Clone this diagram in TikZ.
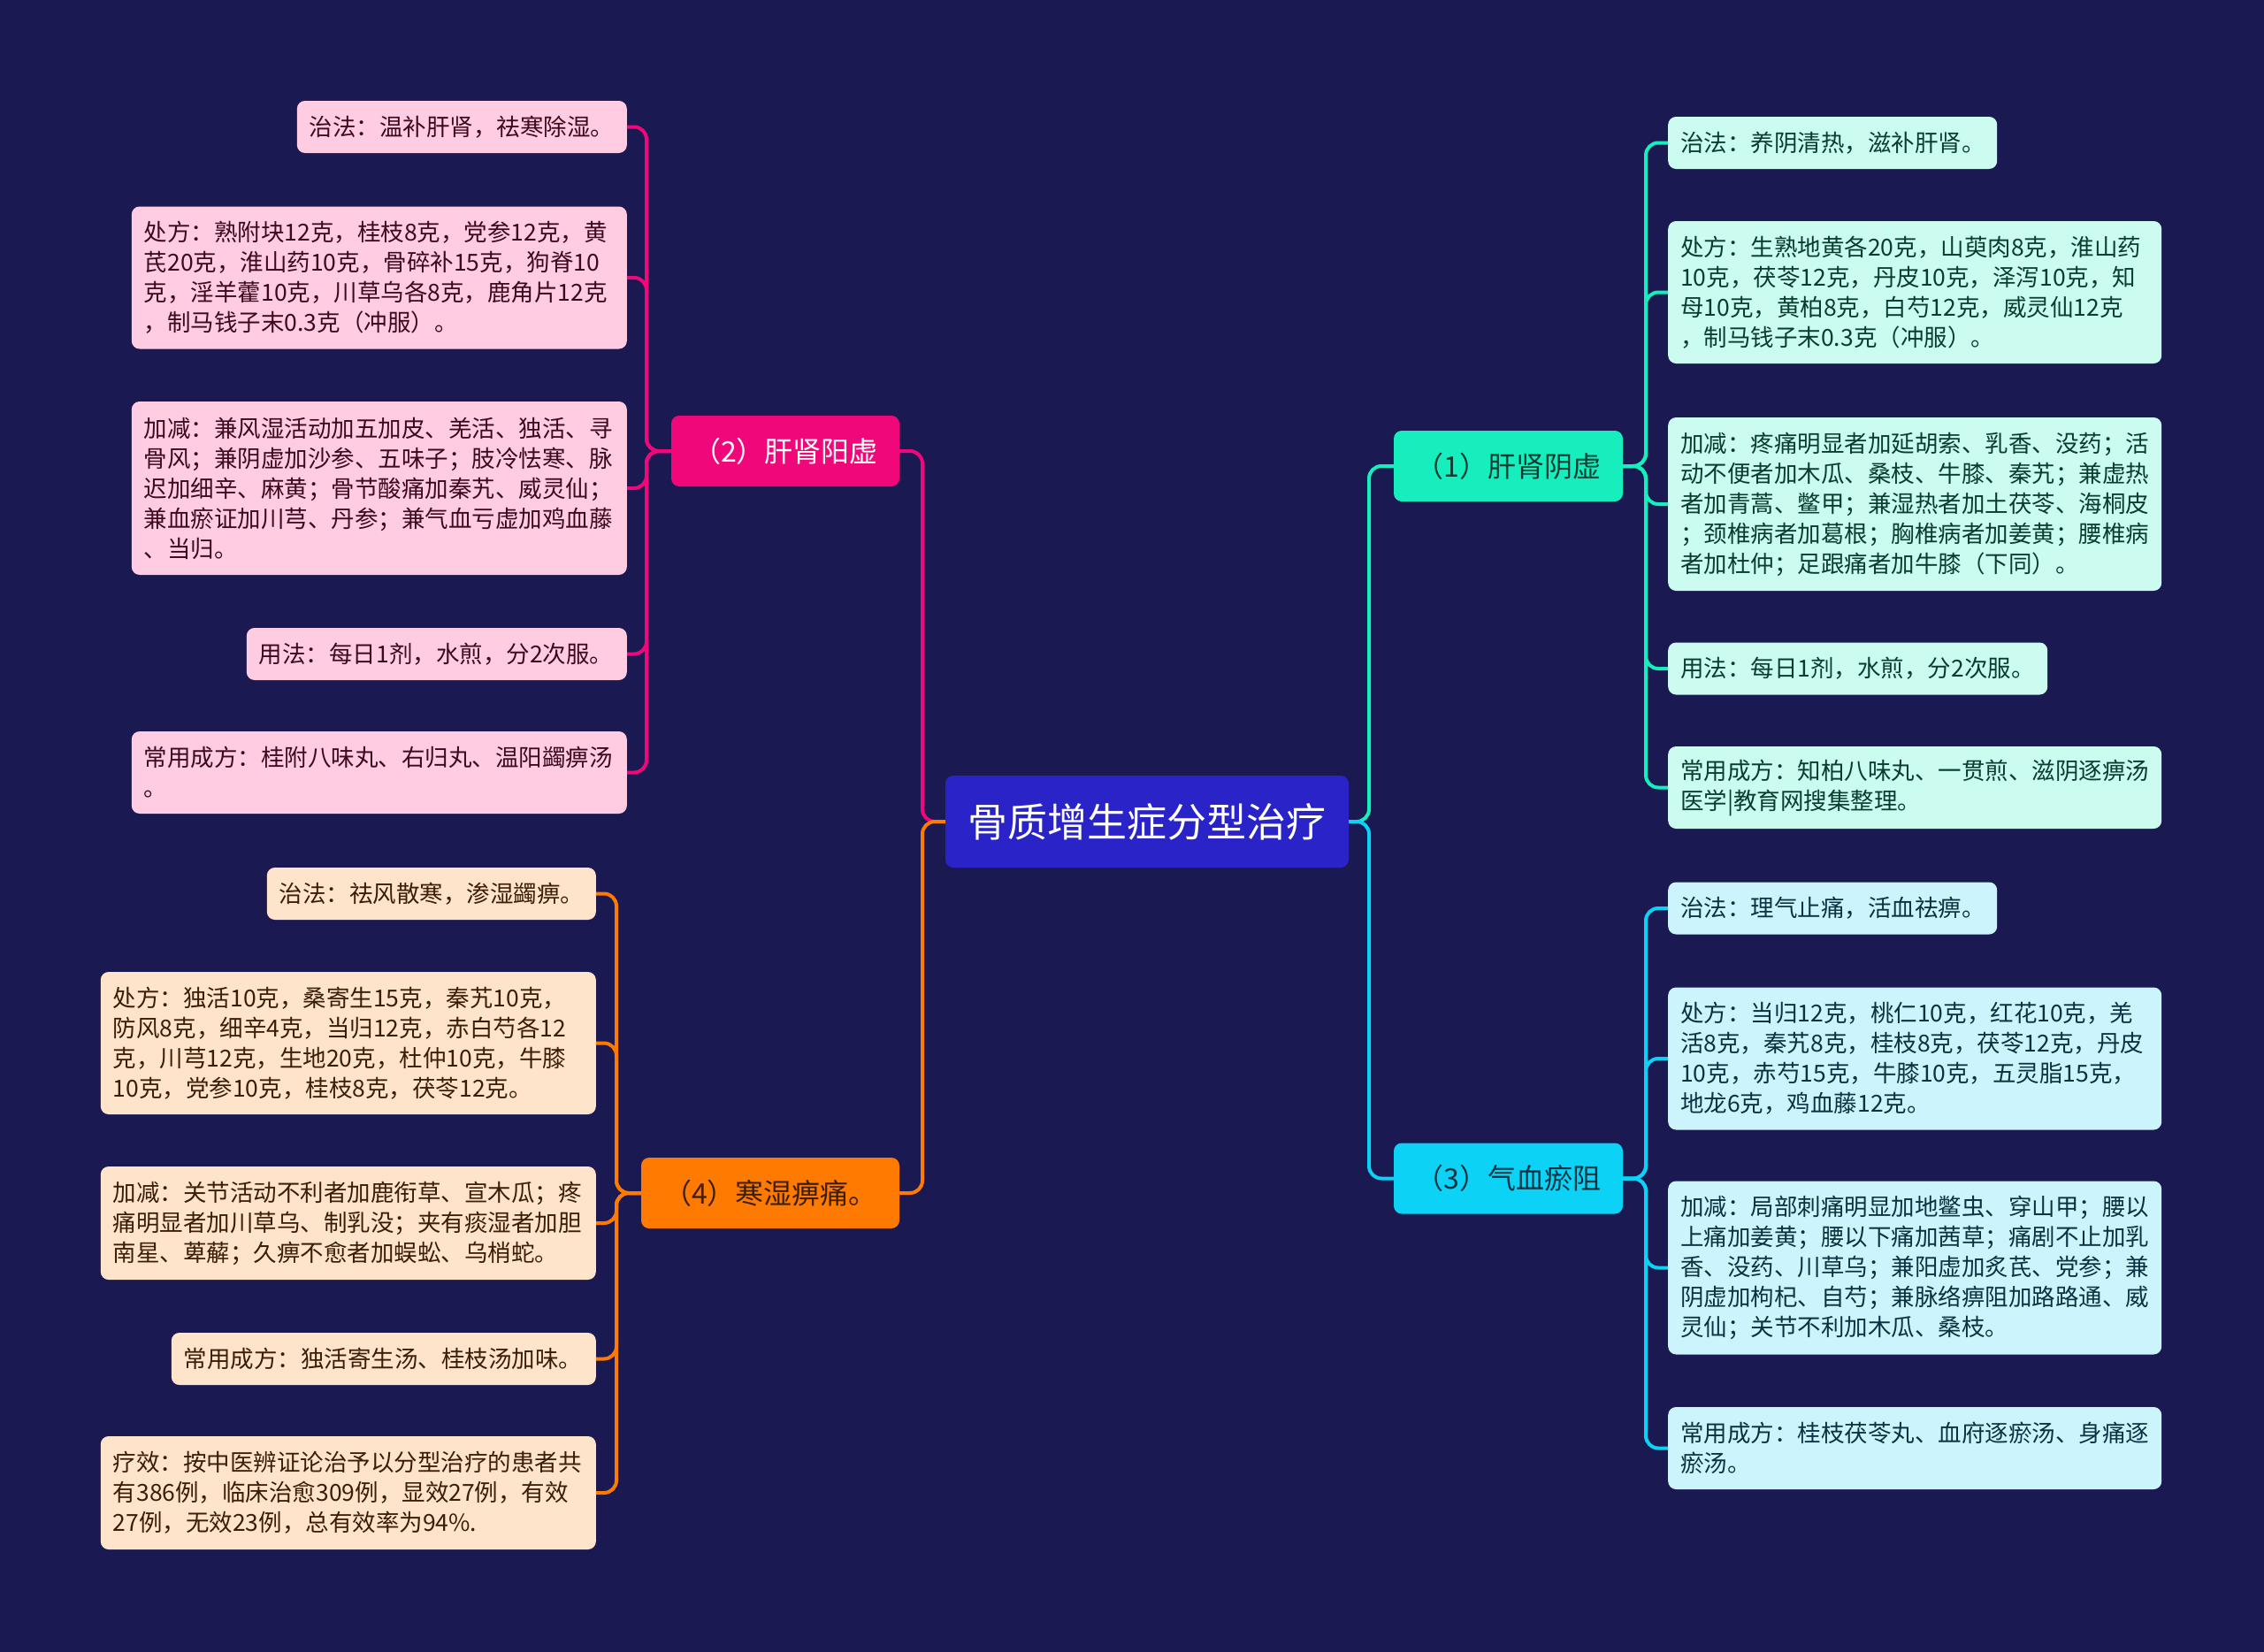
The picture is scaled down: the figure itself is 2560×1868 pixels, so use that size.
\documentclass[tikz,border=0pt]{standalone}
\usepackage{fontspec}
\setmainfont{Noto Sans CJK SC}
\definecolor{bg}{RGB}{26,25,82}
\definecolor{rootc}{RGB}{42,36,200}
\definecolor{bA}{RGB}{22,238,190}
\definecolor{bB}{RGB}{240,8,122}
\definecolor{bC}{RGB}{12,210,245}
\definecolor{bD}{RGB}{255,122,0}
\definecolor{lA}{RGB}{204,252,240}
\definecolor{lB}{RGB}{255,204,225}
\definecolor{lC}{RGB}{204,244,252}
\definecolor{lD}{RGB}{255,228,204}
\definecolor{tA}{RGB}{10,60,50}
\definecolor{tB}{RGB}{60,10,30}
\definecolor{tC}{RGB}{10,50,65}
\definecolor{tD}{RGB}{60,30,5}
\tikzset{
  rootbox/.style={rectangle, rounded corners=9pt, fill=rootc, text=white, font=\fontsize{45}{54}\selectfont, minimum width=456pt, minimum height=104pt, inner sep=0pt},
  brbox/.style={rectangle, rounded corners=9pt, font=\fontsize{32}{38}\selectfont, minimum height=80pt, inner sep=0pt},
  leaf/.style={rectangle, rounded corners=9pt, font=\fontsize{26.5}{34}\selectfont, align=left, inner xsep=14pt, inner ysep=0pt},
  leafA/.style={leaf, fill=lA, text=tA},
  leafB/.style={leaf, fill=lB, text=tB},
  leafC/.style={leaf, fill=lC, text=tC},
  leafD/.style={leaf, fill=lD, text=tD},
  conn/.style={line width=4pt, rounded corners=14pt},
  h1/.style={minimum height=59pt},
  h2/.style={minimum height=93pt},
  h3/.style={minimum height=128pt},
  h4/.style={minimum height=161pt},
  h5/.style={minimum height=196pt},
}
\begin{document}
\begin{tikzpicture}[x=1pt,y=-1pt]
\useasboundingbox (0,0) rectangle (2560,1868);
\fill[bg] (0,0) rectangle (2560,1868);

% root and branches
\node[rootbox] (root) at (1297,929) {骨质增生症分型治疗};
\node[brbox, fill=bA, text=tA, minimum width=259pt] (b1) at (1705.5,527) {（1）肝肾阴虚};
\node[brbox, fill=bC, text=tC, minimum width=259pt] (b3) at (1705.5,1332.5) {（3）气血瘀阻};
\node[brbox, fill=bB, text=white, minimum width=258pt] (b2) at (888,510) {（2）肝肾阳虚};
\node[brbox, fill=bD, text=tD, minimum width=292pt] (b4) at (871,1349) {（4）寒湿痹痛。};

% right (1) leaves
\node[leafA, h1, text width=344pt, anchor=west] (a1) at (1886,161.5) {治法：养阴清热，滋补肝肾。};
\node[leafA, h4, text width=530pt, anchor=west] (a2) at (1886,330.5) {处方：生熟地黄各20克，山萸肉8克，淮山药\\10克，茯苓12克，丹皮10克，泽泻10克，知\\母10克，黄柏8克，白芍12克，威灵仙12克\\，制马钱子末0.3克（冲服）。};
\node[leafA, h5, text width=530pt, anchor=west] (a3) at (1886,570) {加减：疼痛明显者加延胡索、乳香、没药；活\\动不便者加木瓜、桑枝、牛膝、秦艽；兼虚热\\者加青蒿、鳖甲；兼湿热者加土茯苓、海桐皮\\；颈椎病者加葛根；胸椎病者加姜黄；腰椎病\\者加杜仲；足跟痛者加牛膝（下同）。};
\node[leafA, h1, text width=401pt, anchor=west] (a4) at (1886,756) {用法：每日1剂，水煎，分2次服。};
\node[leafA, h2, text width=530pt, anchor=west] (a5) at (1886,890.5) {常用成方：知柏八味丸、一贯煎、滋阴逐痹汤\\医学|教育网搜集整理。};

% right (3) leaves
\node[leafC, h1, text width=344pt, anchor=west] (c1) at (1886,1027) {治法：理气止痛，活血祛痹。};
\node[leafC, h4, text width=530pt, anchor=west] (c2) at (1886,1197) {处方：当归12克，桃仁10克，红花10克，羌\\活8克，秦艽8克，桂枝8克，茯苓12克，丹皮\\10克，赤芍15克，牛膝10克，五灵脂15克，\\地龙6克，鸡血藤12克。};
\node[leafC, h5, text width=530pt, anchor=west] (c3) at (1886,1433.5) {加减：局部刺痛明显加地鳖虫、穿山甲；腰以\\上痛加姜黄；腰以下痛加茜草；痛剧不止加乳\\香、没药、川草乌；兼阳虚加炙芪、党参；兼\\阴虚加枸杞、自芍；兼脉络痹阻加路路通、威\\灵仙；关节不利加木瓜、桑枝。};
\node[leafC, h2, text width=530pt, anchor=west] (c4) at (1886,1637.5) {常用成方：桂枝茯苓丸、血府逐瘀汤、身痛逐\\瘀汤。};

% left (2) leaves
\node[leafB, h1, text width=345pt, anchor=east] (p1) at (709,143.5) {治法：温补肝肾，祛寒除湿。};
\node[leafB, h4, text width=532pt, anchor=east] (p2) at (709,314) {处方：熟附块12克，桂枝8克，党参12克，黄\\芪20克，淮山药10克，骨碎补15克，狗脊10\\克，淫羊藿10克，川草乌各8克，鹿角片12克\\，制马钱子末0.3克（冲服）。};
\node[leafB, h5, text width=532pt, anchor=east] (p3) at (709,552) {加减：兼风湿活动加五加皮、羌活、独活、寻\\骨风；兼阴虚加沙参、五味子；肢冷怯寒、脉\\迟加细辛、麻黄；骨节酸痛加秦艽、威灵仙；\\兼血瘀证加川芎、丹参；兼气血亏虚加鸡血藤\\、当归。};
\node[leafB, h1, text width=402pt, anchor=east] (p4) at (709,739.5) {用法：每日1剂，水煎，分2次服。};
\node[leafB, h2, text width=532pt, anchor=east] (p5) at (709,873.5) {常用成方：桂附八味丸、右归丸、温阳蠲痹汤\\。};

% left (4) leaves
\node[leafD, h1, text width=344pt, anchor=east] (d1) at (674,1010.5) {治法：祛风散寒，渗湿蠲痹。};
\node[leafD, h4, text width=532pt, anchor=east] (d2) at (674,1179.5) {处方：独活10克，桑寄生15克，秦艽10克，\\防风8克，细辛4克，当归12克，赤白芍各12\\克，川芎12克，生地20克，杜仲10克，牛膝\\10克，党参10克，桂枝8克，茯苓12克。};
\node[leafD, h3, text width=532pt, anchor=east] (d3) at (674,1383) {加减：关节活动不利者加鹿衔草、宣木瓜；疼\\痛明显者加川草乌、制乳没；夹有痰湿者加胆\\南星、萆薢；久痹不愈者加蜈蚣、乌梢蛇。};
\node[leafD, h1, text width=452pt, anchor=east] (d4) at (674,1536.5) {常用成方：独活寄生汤、桂枝汤加味。};
\node[leafD, h3, text width=532pt, anchor=east] (d5) at (674,1688) {疗效：按中医辨证论治予以分型治疗的患者共\\有386例，临床治愈309例，显效27例，有效\\27例，无效23例，总有效率为94\%.};

% junction coordinates
\coordinate (jR) at (1548,929);
\coordinate (jL) at (1043,929);
\coordinate (jA) at (1861,527);
\coordinate (jC) at (1861,1332.5);
\coordinate (jB) at (731,510);
\coordinate (jD) at (697,1349);

% root connectors
\draw[conn, bA] (root.east) -- (jR) |- (b1.west);
\draw[conn, bC] (root.east) -- (jR) |- (b3.west);
\draw[conn, bB] (root.west) -- (jL) |- (b2.east);
\draw[conn, bD] (root.west) -- (jL) |- (b4.east);

% branch (1)
\foreach \n in {a1,a2,a3,a4,a5} \draw[conn, bA] (b1.east) -- (jA) |- (\n.west);
% branch (3)
\foreach \n in {c1,c2,c3,c4} \draw[conn, bC] (b3.east) -- (jC) |- (\n.west);
% branch (2)
\foreach \n in {p1,p2,p3,p4,p5} \draw[conn, bB] (b2.west) -- (jB) |- (\n.east);
% branch (4)
\foreach \n in {d1,d2,d3,d4,d5} \draw[conn, bD] (b4.west) -- (jD) |- (\n.east);
\end{tikzpicture}
\end{document}
